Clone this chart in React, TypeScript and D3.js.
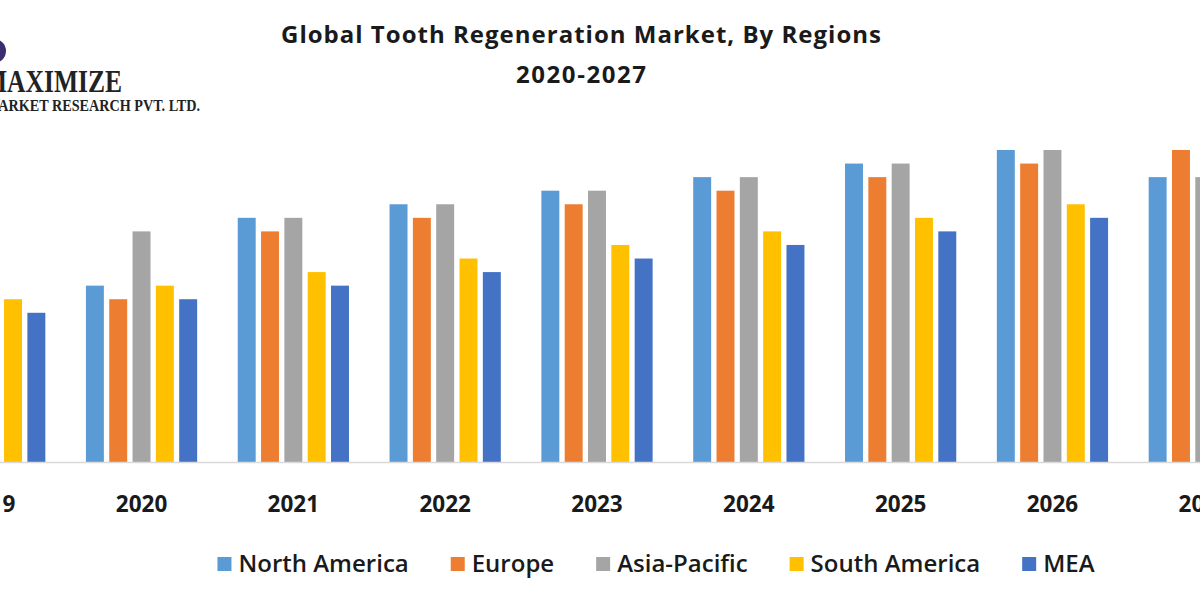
import React, { useEffect, useRef } from 'react';
import * as d3 from 'd3';

const years = ['2019', '2020', '2021', '2022', '2023', '2024', '2025', '2026', '2027'];
const seriesNames = ['North America', 'Europe', 'Asia-Pacific', 'South America', 'MEA'];
const seriesColors = ['#5B9BD5', '#ED7D31', '#A5A5A5', '#FFC000', '#4472C4'];
const northAmerica = [13, 13, 18, 19, 20, 21, 22, 23, 21];
const europe = [12, 12, 17, 18, 19, 20, 21, 22, 23];
const asiaPacific = [16, 17, 18, 19, 20, 21, 22, 23, 21];
const southAmerica = [12, 13, 14, 15, 16, 17, 18, 19, 20];
const mea = [11, 12, 13, 14, 15, 16, 17, 18, 19];
const seriesValues = [northAmerica, europe, asiaPacific, southAmerica, mea];
const titleLines = ['Global Tooth Regeneration Market, By Regions', '2020-2027'];
const logoLines = ['MAXIMIZE', 'MARKET RESEARCH PVT. LTD.'];

const W = 1200;
const H = 600;
const FONT = "'Open Sans', 'Noto Sans', sans-serif";

export default function App() {
  const ref = useRef<SVGSVGElement | null>(null);

  useEffect(() => {
    const svg = d3.select(ref.current);
    svg.selectAll('*').remove();

    svg.append('rect').attr('width', W).attr('height', H).attr('fill', '#ffffff');

    const baseY = 462;
    const x = d3.scaleBand<string>().domain(years).range([-86.2, 1280.2]).padding(0);
    const xi = d3
      .scaleBand<string>()
      .domain(seriesNames)
      .range([0, x.bandwidth()])
      .paddingInner(0.23)
      .paddingOuter(0.87);
    const y = d3.scaleLinear().domain([0, 23]).range([baseY, 150]);

    // bars
    const groups = svg
      .append('g')
      .selectAll('g')
      .data(years)
      .join('g')
      .attr('transform', (d) => `translate(${x(d)},0)`);
    groups
      .selectAll('rect')
      .data((d, i) => seriesNames.map((s, k) => ({ s, k, v: seriesValues[k][i] })))
      .join('rect')
      .attr('x', (d) => xi(d.s)!)
      .attr('y', (d) => y(d.v))
      .attr('width', xi.bandwidth())
      .attr('height', (d) => baseY - y(d.v))
      .attr('fill', (d) => seriesColors[d.k]);

    // baseline
    svg
      .append('line')
      .attr('x1', 0)
      .attr('x2', W)
      .attr('y1', baseY + 0.5)
      .attr('y2', baseY + 0.5)
      .attr('stroke', '#d9d9d9')
      .attr('stroke-width', 1.5);

    // category labels
    svg
      .append('g')
      .selectAll('text')
      .data(years)
      .join('text')
      .attr('x', (d) => x(d)! + x.bandwidth() / 2)
      .attr('y', 512)
      .attr('text-anchor', 'middle')
      .attr('font-family', FONT)
      .attr('font-weight', 700)
      .attr('font-size', 22.5)
      .attr('fill', '#1a1a1a')
      .text((d) => d);

    // title
    const titleWidths = [600, 130];
    svg
      .append('g')
      .selectAll('text')
      .data(titleLines)
      .join('text')
      .attr('x', 581)
      .attr('y', (d, i) => 43 + i * 40)
      .attr('text-anchor', 'middle')
      .attr('font-family', FONT)
      .attr('font-weight', 700)
      .attr('font-size', 24)
      .attr('textLength', (d, i) => titleWidths[i])
      .attr('lengthAdjust', 'spacing')
      .attr('fill', '#1a1a1a')
      .text((d) => d);

    // legend
    const lg = svg.append('g');
    const items = lg.selectAll('g').data(seriesNames).join('g');
    items
      .append('rect')
      .attr('width', 14)
      .attr('height', 14)
      .attr('y', 557)
      .attr('fill', (d, i) => seriesColors[i]);
    items
      .append('text')
      .attr('x', 21)
      .attr('y', 572)
      .attr('font-family', FONT)
      .attr('font-weight', 600)
      .attr('font-size', 24)
      .attr('fill', '#1a1a1a')
      .text((d) => d);
    let cx = 0;
    const offsets: number[] = [];
    const gap = 42;
    items.each(function () {
      offsets.push(cx);
      const t = (this as SVGGElement).querySelector('text') as SVGTextElement;
      cx += 21 + t.getComputedTextLength() + gap;
    });
    const total = cx - gap;
    const start = 656 - total / 2;
    items.attr('transform', (d, i) => `translate(${start + offsets[i]},0)`);

    // logo (cropped at the left edge)
    svg
      .append('circle')
      .attr('cx', -6)
      .attr('cy', 51)
      .attr('r', 12)
      .attr('fill', '#3b2d70');
    svg
      .append('text')
      .attr('x', -17)
      .attr('y', 92)
      .attr('textLength', 139)
      .attr('lengthAdjust', 'spacingAndGlyphs')
      .attr('font-family', "'Liberation Serif', 'DejaVu Serif', serif")
      .attr('font-weight', 700)
      .attr('font-size', 31)
      .attr('fill', '#222')
      .text(logoLines[0]);
    svg
      .append('text')
      .attr('x', -15)
      .attr('y', 111)
      .attr('textLength', 215)
      .attr('lengthAdjust', 'spacingAndGlyphs')
      .attr('font-family', "'Liberation Serif', 'DejaVu Serif', serif")
      .attr('font-weight', 700)
      .attr('font-size', 17)
      .attr('fill', '#222')
      .text(logoLines[1]);
  }, []);

  return (
    <svg
      ref={ref}
      width={W}
      height={H}
      style={{ position: 'absolute', left: 0, top: 0, display: 'block' }}
    />
  );
}
